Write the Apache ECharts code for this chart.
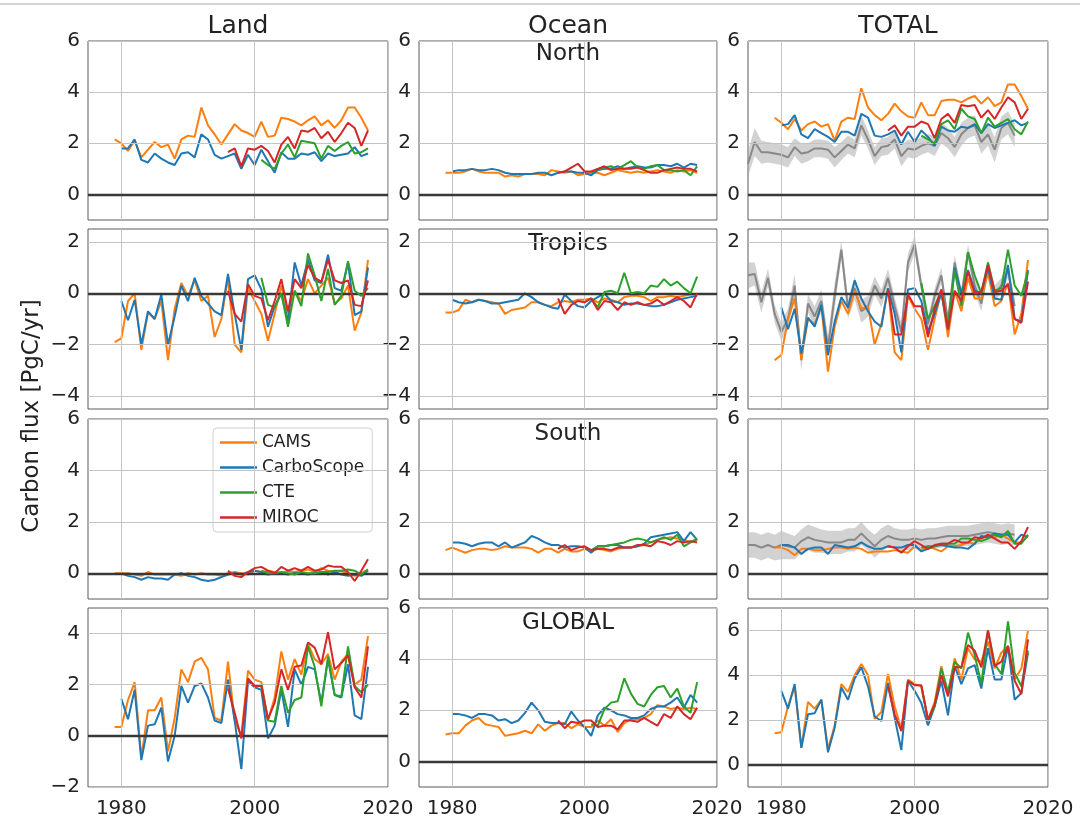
<!DOCTYPE html>
<html>
<head>
<meta charset="utf-8">
<script src="https://cdn.jsdelivr.net/npm/echarts@6/dist/echarts.min.js"></script>
<style>html,body{margin:0;padding:0;background:#fff}#c{width:1080px;height:819px}</style>
</head>
<body>
<div id="c"></div>
<script>
// ---------------- DATA ----------------
const seriesNames = ['CAMS', 'CarboScope', 'CTE', 'MIROC'];
const xTickLabels = [1980, 2000, 2020];
const camsStart = 1979, cbStart = 1980, mirocStart = 1996, cteStart = 2001, grayStart = 1975;

// Land North
const landNorthCAMS = [2.15,2.0,1.7,2.1,1.45,1.75,2.05,1.85,1.95,1.4, 2.15,2.3,2.25,3.4,2.7,2.35,1.95,2.35,2.75,2.5, 2.4,2.25,2.85,2.25,2.3,3.0,2.95,2.85,2.7,2.9, 3.05,2.7,2.9,2.6,2.9,3.4,3.4,3.0,2.5];
const landNorthCB = [1.8,1.8,2.15,1.35,1.25,1.6,1.4,1.25,1.15,1.6, 1.65,1.45,2.35,2.15,1.55,1.4,1.5,1.6,1.0,1.55, 1.15,1.75,1.3,0.85,1.65,1.4,1.4,1.6,1.55,1.65, 1.3,1.6,1.5,1.55,1.6,1.85,1.5,1.6];
const landNorthMIROC = [1.65,1.8,1.1,1.8,1.75,1.9,1.7,1.25,1.95,2.25,1.8,2.5,2.45,2.6,2.2,2.45,2.05,2.4,2.8,2.6,1.9,2.5];
const landNorthCTE = [1.35,1.15,1.0,1.6,1.95,1.45,2.1,2.05,2.0,1.4,1.9,1.7,1.9,2.05,1.6,1.65,1.8];
// Ocean North
const oceanNorthCAMS = [0.85,0.85,0.85,0.9,1.0,0.9,0.85,0.85,0.85,0.7, 0.75,0.7,0.8,0.8,0.8,0.75,0.95,0.9,0.85,0.9, 0.75,0.8,0.85,0.85,0.75,0.85,0.95,0.9,0.85,0.9, 0.85,0.9,0.95,0.9,0.85,0.95,0.9,0.95,0.85];
const oceanNorthCB = [0.9,0.95,0.95,1.0,0.95,0.95,1.0,0.95,0.85,0.8, 0.8,0.8,0.8,0.85,0.85,0.75,0.85,0.9,0.9,0.85, 0.85,0.75,0.95,1.0,1.0,1.1,1.0,1.05,1.1,1.05, 1.05,1.15,1.15,1.1,1.2,1.05,1.2,1.15];
const oceanNorthMIROC = [0.85,0.9,1.05,1.2,0.9,0.9,1.0,1.1,0.95,1.0,1.0,1.0,1.05,0.95,0.85,0.85,0.95,1.0,1.05,1.0,1.0,0.9];
const oceanNorthCTE = [0.85,1.0,1.05,1.1,1.0,1.15,1.3,1.05,1.0,1.1,1.15,0.95,0.95,0.9,0.95,0.75,1.1];
// Total North
const totalNorthCAMS = [3.0,2.8,2.55,2.95,2.5,2.75,2.85,2.65,2.75,2.1, 2.85,3.0,2.95,4.15,3.4,3.1,2.9,3.15,3.55,3.25, 3.05,3.0,3.6,3.1,3.1,3.65,3.7,3.7,3.6,3.75, 3.85,3.55,3.8,3.45,3.6,4.3,4.3,3.85,3.35];
const totalNorthCB = [2.7,2.75,3.1,2.35,2.2,2.55,2.4,2.25,2.05,2.45, 2.45,2.3,3.15,3.0,2.3,2.25,2.35,2.5,1.95,2.45, 2.05,2.5,2.25,1.9,2.65,2.5,2.45,2.65,2.6,2.75, 2.4,2.75,2.6,2.7,2.8,2.9,2.7,2.8];
const totalNorthMIROC = [2.5,2.7,2.3,2.65,2.65,2.85,2.75,2.2,2.95,3.15,2.8,3.5,3.45,3.5,3.0,3.3,2.95,3.4,3.8,3.6,2.95,3.35];
const totalNorthCTE = [2.3,2.15,2.0,2.75,2.9,2.55,3.35,3.05,2.95,2.4,3.0,2.65,2.8,2.95,2.55,2.35,2.85];
const grayNorth = [1.2,2.05,1.65,1.65,1.6,1.55,1.45,1.85,1.6,1.65, 1.8,1.8,1.75,1.45,1.7,1.95,1.8,2.7,2.15,1.5, 1.85,1.9,2.15,1.5,1.8,1.75,1.9,2.0,1.9,2.4, 2.2,1.85,2.35,2.6,2.7,2.05,2.35,1.75,2.6,2.8, 2.3];
const grayNorthSpread = [0.5,0.55,0.45,0.4,0.4,0.4,0.4,0.35,0.4,0.35, 0.35,0.35,0.35,0.4,0.35,0.35,0.35,0.4,0.35,0.35, 0.35,0.35,0.35,0.4,0.35,0.35,0.35,0.35,0.4,0.4, 0.4,0.4,0.45,0.4,0.4,0.45,0.45,0.5,0.45,0.45, 0.45];

// Land Tropics
const landTropCAMS = [-1.9,-1.75,-0.3,0.0,-2.2,-0.75,-1.0,-0.3,-2.6,-0.6, 0.4,-0.1,0.5,-0.3,-0.1,-1.7,-1.0,0.6,-2.0,-2.3, 0.2,-0.3,-0.8,-1.85,-0.8,0.3,-0.8,0.1,-0.3,0.55, 0.0,0.3,0.6,-0.4,-0.2,0.3,-1.45,-0.75,1.3];
const landTropCB = [-0.3,-1.05,-0.25,-2.0,-0.7,-1.0,-0.05,-2.0,-0.9,0.3, -0.3,0.6,-0.1,-0.4,-0.7,-0.85,0.75,-0.8,-2.2,0.55, 0.7,0.15,-1.3,-0.5,0.0,-1.1,1.2,0.3,1.3,0.5, 0.4,1.5,0.2,0.1,1.2,-0.85,-0.7,1.0];
const landTropMIROC = [0.1,-0.8,-1.1,0.35,-0.1,-0.2,-1.05,-0.3,0.55,-0.7,0.55,0.2,1.1,0.6,0.45,1.3,0.5,0.4,0.5,-0.45,-0.5,0.5];
const landTropCTE = [0.6,-0.45,-0.55,0.0,-1.3,0.1,-0.5,1.55,0.7,-0.3,0.95,-0.45,-0.1,1.25,0.1,-0.1,0.2];
// Ocean Tropics
const oceanTropCAMS = [-0.75,-0.75,-0.65,-0.25,-0.35,-0.25,-0.3,-0.35,-0.4,-0.8, -0.65,-0.6,-0.55,-0.35,-0.35,-0.45,-0.5,-0.35,-0.3,-0.35, -0.25,-0.25,-0.2,-0.35,-0.2,-0.25,-0.35,-0.15,-0.1,-0.1, -0.15,-0.3,-0.15,-0.15,-0.1,-0.15,-0.1,-0.05,-0.05];
const oceanTropCB = [-0.25,-0.35,-0.4,-0.35,-0.25,-0.3,-0.4,-0.4,-0.35,-0.3, -0.25,0.0,-0.15,-0.35,-0.45,-0.55,-0.6,-0.05,-0.3,-0.5, -0.55,-0.3,-0.15,0.0,-0.3,-0.35,-0.45,-0.4,-0.4,-0.45, -0.5,-0.5,-0.45,-0.35,-0.25,-0.2,-0.15,-0.1];
const oceanTropMIROC = [-0.2,-0.8,-0.45,-0.3,-0.35,-0.2,-0.65,-0.3,-0.35,-0.65,-0.35,-0.45,-0.35,-0.45,-0.4,-0.25,-0.45,-0.3,-0.15,-0.3,-0.55,0.0];
const oceanTropCTE = [-0.2,-0.55,0.05,0.1,0.0,0.8,0.0,0.05,0.0,0.3,0.25,0.55,0.3,0.45,0.2,0.0,0.65];
// Total Tropics
const totalTropCAMS = [-2.6,-2.4,-1.0,-0.2,-2.55,-1.0,-1.2,-0.5,-3.05,-1.3, -0.3,-0.8,0.1,-0.6,-0.5,-2.0,-1.2,0.2,-2.3,-2.6, -0.1,-0.6,-1.0,-2.2,-1.0,0.1,-1.7,0.1,-0.7,0.6, -0.2,-0.2,0.8,-0.5,-0.3,0.4,-1.6,-0.8,1.3];
const totalTropCB = [-0.55,-1.4,-0.6,-2.35,-0.95,-1.3,-0.45,-2.4,-1.1,-0.15, -0.55,0.5,-0.2,-0.7,-1.1,-1.3,0.2,-0.8,-2.3,0.15, 0.2,-0.3,-1.5,-0.8,0.0,-1.4,1.0,0.0,0.9,0.1, 0.0,1.0,-0.2,-0.25,1.1,-1.0,-1.1,0.9];
const totalTropMIROC = [0.15,-1.6,-1.6,-0.05,-0.5,-0.5,-1.7,-0.6,0.15,-1.4,0.1,-0.3,0.85,0.0,0.05,1.1,0.05,0.1,0.35,-1.0,-1.15,0.45];
const totalTropCTE = [0.4,-1.0,-0.5,0.1,-1.3,0.9,-0.5,1.6,0.7,0.0,1.2,0.1,0.2,1.7,0.3,-0.1,0.85];
const grayTrop = [0.7,0.75,-0.35,0.6,-0.8,-1.5,-1.0,0.3,-2.6,-0.4, -0.9,-0.3,-2.1,-0.1,1.7,-0.6,0.2,-0.7,-0.5,0.3, -0.2,0.6,-0.5,-1.5,1.2,1.9,0.3,-1.2,-0.1,0.7, -1.1,1.2,-0.1,1.6,0.3,-0.4,1.0,0.0,0.3,0.9, -0.5];
const grayTropSpread = [0.5,0.45,0.4,0.35,0.35,0.35,0.4,0.45,0.4,0.35, 0.4,0.45,0.45,0.5,0.35,0.4,0.45,0.45,0.4,0.35, 0.35,0.35,0.35,0.35,0.35,0.35,0.3,0.3,0.3,0.3, 0.3,0.3,0.3,0.3,0.3,0.3,0.3,0.3,0.3,0.3, 0.3];

// Land South
const landSouthCAMS = [0.0,0.0,0.0,-0.05,-0.1,0.05,-0.05,-0.05,-0.05,-0.05, -0.1,0.0,-0.05,0.0,-0.05,-0.05,-0.1,0.0,0.05,0.0, -0.05,0.1,0.05,0.1,0.05,0.0,0.1,0.05,0.1,0.15, 0.05,0.2,0.1,0.05,0.1,0.0,-0.1,0.0,0.15];
const landSouthCB = [0.0,-0.1,-0.15,-0.25,-0.15,-0.2,-0.2,-0.25,-0.05,0.0, -0.1,-0.15,-0.25,-0.3,-0.25,-0.15,-0.05,0.0,-0.05,0.05, 0.1,0.05,-0.05,0.0,0.0,-0.05,0.0,0.0,-0.05,0.0, 0.05,-0.05,0.05,-0.05,-0.1,-0.05,-0.1,0.1];
const landSouthMIROC = [0.1,-0.1,-0.15,0.05,0.2,0.25,0.1,0.0,0.25,0.1,0.2,0.1,0.25,0.1,0.15,0.3,0.25,0.25,0.05,-0.3,0.1,0.55];
const landSouthCTE = [0.1,0.0,0.0,0.05,0.0,-0.05,0.05,0.0,0.0,0.05,0.05,0.1,0.1,0.15,0.1,-0.05,0.15];
// Ocean South
const oceanSouthCAMS = [0.9,1.0,0.9,0.8,0.9,0.95,0.95,0.9,0.95,1.05, 1.0,1.0,1.0,0.95,0.8,0.95,0.95,0.8,0.95,0.85, 0.85,0.95,0.85,0.95,0.9,0.85,0.95,1.0,1.0,1.05, 1.1,1.2,1.3,1.35,1.4,1.35,1.3,1.2,1.3];
const oceanSouthCB = [1.2,1.2,1.15,1.05,1.15,1.2,1.2,1.05,1.2,1.0, 1.1,1.2,1.45,1.35,1.2,1.1,1.1,1.0,1.05,1.05, 1.0,0.8,1.05,1.05,1.1,1.1,1.0,1.0,1.05,1.15, 1.4,1.45,1.5,1.55,1.6,1.25,1.6,1.3];
const oceanSouthMIROC = [0.95,1.1,0.9,1.0,1.05,0.9,0.95,0.95,0.9,1.0,1.0,1.0,1.1,1.1,1.05,1.25,1.2,1.1,1.25,1.2,1.25,1.2];
const oceanSouthCTE = [0.9,1.05,1.05,1.1,1.15,1.2,1.3,1.35,1.3,1.2,1.3,1.4,1.3,1.5,1.05,1.2,1.35];
// Total South
const totalSouthCAMS = [1.0,1.0,0.9,0.7,0.95,0.95,0.9,0.9,0.95,1.0, 1.0,0.95,1.0,0.95,0.8,0.85,0.85,0.85,0.9,0.85, 0.8,1.05,0.9,1.05,0.95,0.85,1.05,1.05,1.1,1.2, 1.15,1.4,1.4,1.4,1.5,1.35,1.2,1.2,1.45];
const totalSouthCB = [1.1,1.1,1.0,0.75,0.95,1.0,1.0,0.75,1.1,1.05, 1.0,1.05,1.2,1.05,0.95,0.95,1.05,1.0,1.0,1.1, 1.1,0.85,0.95,1.05,1.1,1.05,1.0,1.0,0.95,1.15, 1.45,1.4,1.55,1.5,1.5,1.2,1.5,1.4];
const totalSouthMIROC = [1.05,1.0,0.8,1.05,1.25,1.1,0.95,1.1,1.15,1.15,1.3,1.2,1.2,1.4,1.35,1.5,1.35,1.2,1.2,0.95,1.25,1.8];
const totalSouthCTE = [1.0,1.05,1.05,1.15,1.15,1.15,1.35,1.35,1.3,1.25,1.35,1.5,1.4,1.65,1.15,1.15,1.5];
const graySouth = [1.1,1.1,1.0,1.1,1.0,1.1,1.05,1.0,1.25,1.4, 1.3,1.25,1.2,1.2,1.2,1.3,1.3,1.55,1.3,1.05, 1.3,1.45,1.35,1.3,1.3,1.35,1.3,1.35,1.35,1.4, 1.45,1.45,1.45,1.45,1.5,1.55,1.6,1.55,1.5,1.55, 1.5];
const graySouthSpread = [0.5,0.5,0.5,0.5,0.5,0.55,0.5,0.45,0.45,0.5, 0.5,0.45,0.45,0.45,0.45,0.45,0.45,0.45,0.4,0.45, 0.45,0.45,0.4,0.4,0.4,0.4,0.4,0.4,0.4,0.4, 0.4,0.4,0.4,0.4,0.4,0.4,0.4,0.4,0.4,0.4, 0.4];

// Land Global
const landGlobalCAMS = [0.35,0.35,1.4,2.1,-0.85,1.0,1.0,1.5,-0.6,0.7, 2.6,2.1,2.9,3.05,2.6,0.7,0.6,2.9,0.6,0.0, 2.55,2.2,2.1,0.6,1.5,3.3,2.2,3.0,2.4,3.6, 3.0,2.8,3.2,2.2,2.9,3.2,2.0,2.2,3.9];
const landGlobalCB = [1.45,0.65,1.8,-0.95,0.4,0.45,1.1,-1.0,0.0,1.95, 1.3,1.95,2.05,1.5,0.6,0.5,2.2,0.6,-1.3,2.15, 1.9,1.8,-0.1,0.4,1.8,0.35,2.6,2.0,2.7,2.6, 1.3,3.0,1.6,1.5,2.8,0.8,0.65,2.7];
const landGlobalMIROC = [1.85,0.9,-0.1,2.25,1.95,1.95,0.65,1.3,2.6,1.8,2.7,2.75,3.65,3.45,2.8,4.05,2.6,2.85,3.15,1.9,1.5,3.5];
const landGlobalCTE = [2.0,0.6,0.55,1.95,0.9,1.4,1.5,3.5,2.7,1.15,3.1,1.6,1.55,3.5,1.95,1.7,2.0];
// Ocean Global
const oceanGlobalCAMS = [1.05,1.1,1.1,1.4,1.6,1.7,1.45,1.4,1.35,1.0, 1.05,1.1,1.2,1.1,1.45,1.2,1.4,1.5,1.5,1.3, 1.45,1.35,1.35,1.6,1.4,1.65,1.15,1.5,1.65,1.65, 1.7,1.85,2.2,2.15,2.05,2.1,2.05,2.1,2.05];
const oceanGlobalCB = [1.85,1.85,1.8,1.7,1.85,1.85,1.8,1.6,1.65,1.5, 1.6,1.9,2.3,2.0,1.55,1.5,1.5,1.45,1.95,1.6, 1.35,1.0,1.8,2.1,2.0,1.85,1.8,1.7,1.7,1.8, 2.05,2.15,2.15,2.3,2.5,2.1,2.6,2.3];
const oceanGlobalMIROC = [1.6,1.3,1.55,1.5,1.6,1.6,1.35,1.4,1.4,1.25,1.6,1.6,1.55,1.7,1.55,1.4,1.85,1.7,2.15,1.85,1.65,2.1];
const oceanGlobalCTE = [1.45,1.4,2.05,2.3,2.35,3.25,2.65,2.25,2.15,2.6,2.9,2.95,2.5,2.85,2.15,1.9,3.1];
// Total Global
const totalGlobalCAMS = [1.4,1.45,2.6,3.5,0.75,2.8,2.5,2.9,0.7,1.75, 3.6,3.25,4.0,4.5,4.0,2.05,2.35,4.05,2.6,1.6, 3.8,3.6,3.5,2.0,2.8,4.4,3.2,4.75,3.8,5.2, 4.7,4.6,5.5,4.3,5.0,5.3,3.8,4.3,6.0];
const totalGlobalCB = [3.3,2.5,3.6,0.75,2.25,2.3,2.9,0.55,1.65,3.45, 2.9,3.85,4.35,3.5,2.15,1.95,3.65,2.1,0.65,3.75, 3.3,2.75,1.75,2.6,3.75,2.2,4.4,3.6,4.3,4.45, 3.4,5.2,3.8,3.8,5.3,2.9,3.2,5.0];
const totalGlobalMIROC = [3.5,2.25,1.5,3.75,3.55,3.55,2.0,2.7,4.0,3.05,4.35,4.35,5.35,5.1,4.35,6.0,4.4,4.6,5.3,3.75,3.15,5.6];
const totalGlobalCTE = [3.5,2.0,2.6,4.3,3.25,4.6,4.3,5.9,4.9,3.6,6.0,4.5,4.05,6.4,4.1,3.5,5.1];

// ---------------- LAYOUT / STYLE ----------------
const colLeft = [88, 419, 748], colWidth = [300, 298, 300];
const rowTop = [41, 229, 419, 608], rowHeight = [179, 180, 180, 181];
const colors = {CAMS:'#ff7f0e', CarboScope:'#1f77b4', CTE:'#2ca02c', MIROC:'#d62728'};
const FONT = 'DejaVu Sans';
const TXT = '#222';

const panels = [
  {r:0,c:0,ymin:-1,ymax:6,ticks:[0,2,4,6],d:[landNorthCAMS,landNorthCB,landNorthCTE,landNorthMIROC]},
  {r:0,c:1,ymin:-1,ymax:6,ticks:[0,2,4,6],d:[oceanNorthCAMS,oceanNorthCB,oceanNorthCTE,oceanNorthMIROC]},
  {r:0,c:2,ymin:-1,ymax:6,ticks:[0,2,4,6],d:[totalNorthCAMS,totalNorthCB,totalNorthCTE,totalNorthMIROC],g:grayNorth,gs:grayNorthSpread},
  {r:1,c:0,ymin:-4.5,ymax:2.5,ticks:[-4,-2,0,2],d:[landTropCAMS,landTropCB,landTropCTE,landTropMIROC]},
  {r:1,c:1,ymin:-4.5,ymax:2.5,ticks:[-4,-2,0,2],d:[oceanTropCAMS,oceanTropCB,oceanTropCTE,oceanTropMIROC]},
  {r:1,c:2,ymin:-4.5,ymax:2.5,ticks:[-4,-2,0,2],d:[totalTropCAMS,totalTropCB,totalTropCTE,totalTropMIROC],g:grayTrop,gs:grayTropSpread},
  {r:2,c:0,ymin:-1,ymax:6,ticks:[0,2,4,6],d:[landSouthCAMS,landSouthCB,landSouthCTE,landSouthMIROC]},
  {r:2,c:1,ymin:-1,ymax:6,ticks:[0,2,4,6],d:[oceanSouthCAMS,oceanSouthCB,oceanSouthCTE,oceanSouthMIROC]},
  {r:2,c:2,ymin:-1,ymax:6,ticks:[0,2,4,6],d:[totalSouthCAMS,totalSouthCB,totalSouthCTE,totalSouthMIROC],g:graySouth,gs:graySouthSpread},
  {r:3,c:0,ymin:-2,ymax:5,ticks:[-2,0,2,4],d:[landGlobalCAMS,landGlobalCB,landGlobalCTE,landGlobalMIROC]},
  {r:3,c:1,ymin:-1,ymax:6,ticks:[0,2,4,6],d:[oceanGlobalCAMS,oceanGlobalCB,oceanGlobalCTE,oceanGlobalMIROC]},
  {r:3,c:2,ymin:-1,ymax:7,ticks:[0,2,4,6],d:[totalGlobalCAMS,totalGlobalCB,totalGlobalCTE,totalGlobalMIROC]}
];
const starts = [camsStart, cbStart, cteStart, mirocStart];

function pairs(start, arr){ return arr.map((v,k)=>[start+k, v]); }
function fmtNum(v){ return v < 0 ? '\u2212' + Math.abs(v) : String(v); }
function hasTick(list, v){ return list.some(t => Math.abs(t - v) < 1e-6); }

const grids = [], xAxes = [], yAxes = [], series = [];
panels.forEach((p, i) => {
  grids.push({left: colLeft[p.c], top: rowTop[p.r], width: colWidth[p.c], height: rowHeight[p.r],
    show: true, borderColor: '#5a5a5a', borderWidth: 1, backgroundColor: 'rgba(0,0,0,0)', containLabel: false});
  xAxes.push({type:'value', gridIndex:i, min:1975, max:2020, interval:5,
    axisLine:{show:false}, axisTick:{show:false}, splitLine:{show:false},
    axisLabel:{show: p.r === 3, showMaxLabel:true, showMinLabel:true, margin:12, fontSize:20, fontFamily:FONT, color:TXT,
      formatter: v => hasTick(xTickLabels, v) ? String(Math.round(v)) : ''}});
  yAxes.push({type:'value', gridIndex:i, min:p.ymin, max:p.ymax, interval:0.5,
    axisLine:{show:false}, axisTick:{show:false}, splitLine:{show:false},
    axisLabel:{show:true, showMaxLabel:true, showMinLabel:true, margin:8, fontSize:20, fontFamily:FONT, color:TXT,
      formatter: v => hasTick(p.ticks, v) ? fmtNum(Math.round(v)) : ''}});
  // grid lines and zero line
  const ml = [];
  p.ticks.filter(t => t !== 0).forEach(t => ml.push({yAxis:t}));
  xTickLabels.forEach(t => ml.push({xAxis:t}));
  ml.push({yAxis:0, lineStyle:{color:'#383838', width:2.4, type:'solid'}});
  series.push({type:'line', name:'_grid'+i, xAxisIndex:i, yAxisIndex:i, data:[], z:1, silent:true, symbol:'none',
    markLine:{silent:true, symbol:['none','none'], label:{show:false}, animation:false,
      lineStyle:{color:'#c4c4c4', width:1, type:'solid'}, emphasis:{disabled:true}, data: ml}});
  // gray observation band + line
  if (p.g) {
    const bandData = p.g.map((m,k) => [grayStart+k, m - p.gs[k], m + p.gs[k]]);
    series.push({type:'custom', name:'_band'+i, xAxisIndex:i, yAxisIndex:i, z:2, silent:true, clip:true,
      data: bandData,
      renderItem: function(params, api){
        if (params.dataIndexInside !== 0) return null;
        const n = params.dataInsideLength;
        const pts = [];
        for (let k=0;k<n;k++) pts.push(api.coord([api.value(0,k), api.value(2,k)]));
        for (let k=n-1;k>=0;k--) pts.push(api.coord([api.value(0,k), api.value(1,k)]));
        return {type:'polygon', shape:{points:pts}, style:{fill:'rgba(165,165,165,0.5)'}};
      }});
    series.push({type:'line', name:'_obs'+i, xAxisIndex:i, yAxisIndex:i, z:2, silent:true, symbol:'none',
      data: pairs(grayStart, p.g), lineStyle:{color:'#888888', width:2}, itemStyle:{color:'#888888'}});
  }
  p.d.forEach((arr, s) => {
    const nm = seriesNames[s];
    series.push({type:'line', name:nm, xAxisIndex:i, yAxisIndex:i, z:3+s, symbol:'none', showSymbol:false,
      data: pairs(starts[s], arr), color: colors[nm], lineStyle:{color:colors[nm], width:2}, itemStyle:{color:colors[nm]}});
  });
});

const txt = (text, x, y, size, extra) => Object.assign({type:'text', x, y, silent:true,
  style:{text, fontSize:size, fontFamily:FONT, fill:TXT, align:'center', verticalAlign:'middle', textAlign:'center', textVerticalAlign:'middle'}}, extra || {});

const option = {
  animation:false,
  backgroundColor:'#fff',
  textStyle:{fontFamily:FONT},
  grid: grids, xAxis: xAxes, yAxis: yAxes, series: series,
  legend:{data: seriesNames, orient:'vertical', left:213, top:428, icon:'rect', itemWidth:37, itemHeight:2.5, itemGap:8,
    backgroundColor:'rgba(255,255,255,0.85)', borderColor:'#d0d0d0', borderWidth:1, borderRadius:4, padding:[6,8,6,7],
    textStyle:{fontSize:17, fontFamily:FONT, color:TXT}},
  graphic:[
    {type:'line', silent:true, shape:{x1:0,y1:4,x2:1080,y2:4}, style:{stroke:'#d4d4d4', lineWidth:2}},
    txt('Land', 238, 26, 25), txt('Ocean', 568, 26, 25), txt('TOTAL', 898, 26, 25),
    txt('North', 568, 54, 23), txt('Tropics', 568, 244, 23), txt('South', 568, 434, 23), txt('GLOBAL', 568, 623, 23),
    txt('Carbon flux [PgC/yr]', 32, 416, 23, {rotation: Math.PI/2})
  ]
};
const chart = echarts.init(document.getElementById('c'), null, {renderer:'canvas'});
chart.setOption(option);
</script>
</body>
</html>
